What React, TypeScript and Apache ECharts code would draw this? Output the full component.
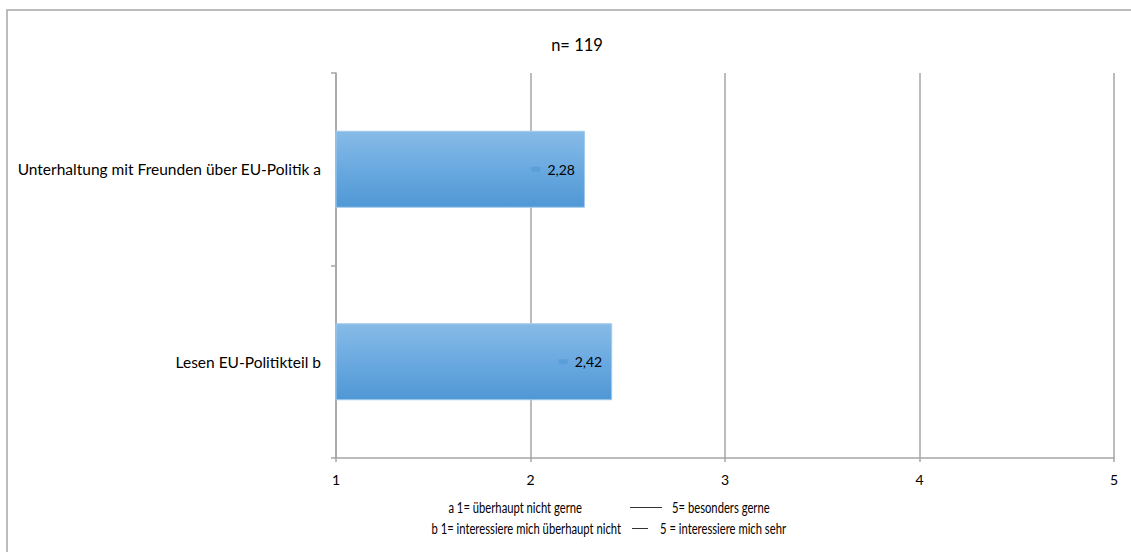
import React, { useEffect, useRef } from "react";
import * as echarts from "echarts";

const categories = ["Unterhaltung mit Freunden über EU-Politik a", "Lesen EU-Politikteil b"];
const means = [2.28, 2.42];
const scaleTicks = [1, 2, 3, 4, 5];
const titleText = "n= 119";
const noteLeft = ["a 1= überhaupt nicht gerne", "b 1= interessiere mich überhaupt nicht"];
const noteRight = ["5= besonders gerne", "5 = interessiere mich sehr"];

const FONT = "Lato";
const GRAY = "#a6a6a6";
const NOTE_FONT = `14.5px ${FONT}`;
const NOTE_SCALE = 0.775;

export default function App() {
  const ref = useRef<HTMLDivElement>(null);

  useEffect(() => {
    if (!ref.current) return;
    const chart = echarts.init(ref.current, undefined, { renderer: "svg" });
    const fmt = (v: number) => v.toFixed(2).replace(".", ",");

    // Footnote text pieces are set in a condensed face by narrowing them horizontally
    const note = (text: string, x: number, y: number, align: "left" | "right") => ({
      type: "text",
      x,
      y,
      scaleX: NOTE_SCALE,
      style: { text, fill: "#000", font: NOTE_FONT, textAlign: align, textVerticalAlign: "middle" },
    });

    chart.setOption({
      animation: false,
      backgroundColor: "#fff",
      textStyle: { fontFamily: FONT },
      title: {
        text: titleText,
        left: 572,
        top: 31,
        textAlign: "center",
        textStyle: { fontFamily: FONT, fontSize: 16.5, fontWeight: "normal", color: "#000" },
      },
      grid: { left: 336, right: 17, top: 73, bottom: 94, containLabel: false },
      xAxis: {
        type: "value",
        min: scaleTicks[0],
        max: scaleTicks[scaleTicks.length - 1],
        interval: 1,
        axisLine: { show: true, lineStyle: { color: GRAY, width: 1.5 } },
        axisTick: { show: true, length: 4, lineStyle: { color: GRAY, width: 1.5 } },
        axisLabel: { color: "#000", fontSize: 14, fontFamily: FONT, margin: 14 },
        splitLine: { show: true, lineStyle: { color: GRAY, width: 1.5 } },
      },
      yAxis: {
        type: "category",
        data: categories,
        inverse: true,
        axisLine: { show: true, lineStyle: { color: GRAY, width: 1.5 } },
        axisTick: { show: true, length: 5, lineStyle: { color: GRAY, width: 1.5 } },
        axisLabel: { color: "#000", fontSize: 15.5, fontFamily: FONT, margin: 15 },
      },
      series: [
        {
          type: "bar",
          data: means,
          barWidth: "40%",
          itemStyle: {
            color: new echarts.graphic.LinearGradient(0, 0, 0, 1, [
              { offset: 0, color: "#87bbe7" },
              { offset: 0.5, color: "#6aa9e0" },
              { offset: 1, color: "#4f98d5" },
            ]),
            borderColor: "#a3caec",
            borderWidth: 1,
          },
          label: {
            show: true,
            position: "insideRight",
            distance: 10,
            formatter: (p: any) => `{k|}{v|${fmt(p.value)}}`,
            rich: {
              k: { width: 9, height: 5, backgroundColor: "#5b9fda" },
              v: { color: "#000", fontSize: 14, fontFamily: FONT, padding: [0, 0, 0, 7] },
            },
          },
        },
      ],
      graphic: [
        {
          type: "rect",
          shape: { x: 7, y: 10, width: 1140, height: 560 },
          style: { fill: "none", stroke: GRAY, lineWidth: 1.5 },
          silent: true,
        },
        note(noteLeft[0], 582, 507, "right"),
        {
          type: "line",
          shape: { x1: 630, y1: 507.5, x2: 662, y2: 507.5 },
          style: { stroke: "#333", lineWidth: 1 },
        },
        note(noteRight[0], 672, 507, "left"),
        note(noteLeft[1], 621, 528, "right"),
        {
          type: "line",
          shape: { x1: 632, y1: 528.5, x2: 648, y2: 528.5 },
          style: { stroke: "#333", lineWidth: 1 },
        },
        note(noteRight[1], 660, 528, "left"),
      ],
    });

    return () => chart.dispose();
  }, []);

  return (
    <div
      ref={ref}
      style={{ position: "fixed", left: 0, top: 0, width: 1131, height: 552, background: "#fff" }}
    />
  );
}
